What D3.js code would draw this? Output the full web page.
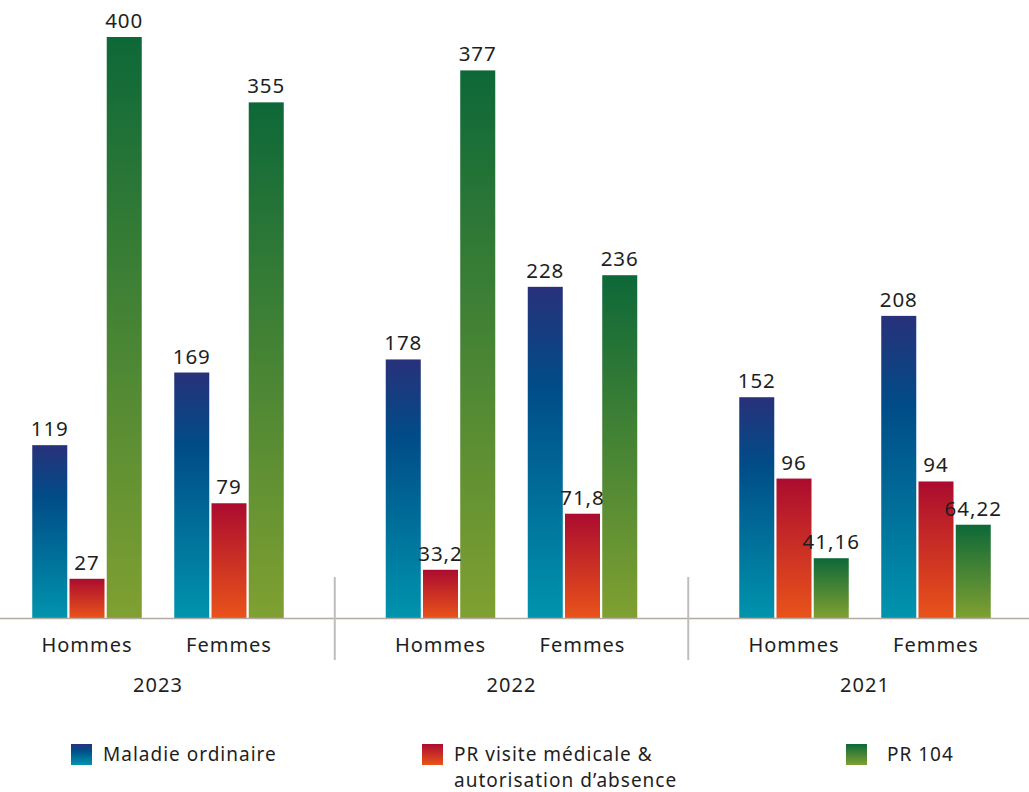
<!DOCTYPE html>
<html><head><meta charset="utf-8">
<script src="https://cdn.jsdelivr.net/npm/d3@7"></script>
<style>
html,body{margin:0;padding:0;background:#fff;}
text{font-family:"Noto Sans",sans-serif;fill:#1e1e1e;}
</style></head>
<body>
<svg id="chart" width="1029" height="792"></svg>
<script>
const years = ["2023", "2022", "2021"];
const sexes = ["Hommes", "Femmes"];
const seriesNames = ["Maladie ordinaire", "PR visite médicale &\nautorisation d’absence", "PR 104"];
// values in order: 2023 H, 2023 F, 2022 H, 2022 F, 2021 H, 2021 F
const maladie = [119, 169, 178, 228, 152, 208];
const prVisite = [27, 79, 33.2, 71.8, 96, 94];
const pr104 = [400, 355, 377, 236, 41.16, 64.22];
const yTicks = [0, 400];

const seriesValues = [maladie, prVisite, pr104];
const gradients = [
  [["0%", "#28317a"], ["30%", "#004c88"], ["100%", "#0094ad"]],
  [["0%", "#ab0c2f"], ["100%", "#e9531a"]],
  [["0%", "#0d6838"], ["100%", "#80a031"]]
];

const svg = d3.select("#chart");
const defs = svg.append("defs");
gradients.forEach((stops, i) => {
  const g = defs.append("linearGradient").attr("id", "grad" + i)
    .attr("x1", 0).attr("y1", 0).attr("x2", 0).attr("y2", 1);
  stops.forEach(s => g.append("stop").attr("offset", s[0]).attr("stop-color", s[1]));
});

const fr = d3.formatLocale({decimal: ",", thousands: " ", grouping: [3], currency: ["", " €"]});
const fmt = fr.format("~g");

const baseY = 618;
const y = d3.scaleLinear().domain(d3.extent(yTicks)).range([baseY, 37]);
const xYear = d3.scaleBand().domain(years).range([-18.75, 1041.75]).padding(0);
const sexOffset = d3.scaleBand().domain(sexes).range([-142, 142]).padding(0);
const xSeries = d3.scaleBand().domain(d3.range(seriesValues.length)).range([-54.75, 54.75]).paddingInner(0.06).paddingOuter(0);

const rows = [];
years.forEach((yr, yi) => sexes.forEach((sx, si) => {
  const idx = yi * sexes.length + si;
  const c = xYear(yr) + xYear.bandwidth() / 2 + sexOffset(sx) + sexOffset.bandwidth() / 2;
  seriesValues.forEach((arr, k) => rows.push({yr, sx, k, v: arr[idx], c}));
}));

// bars
svg.append("g").selectAll("rect").data(rows).join("rect")
  .attr("x", d => d.c + xSeries(d.k))
  .attr("width", xSeries.bandwidth())
  .attr("y", d => y(d.v))
  .attr("height", d => baseY - y(d.v))
  .attr("fill", d => `url(#grad${d.k})`);

// value labels
svg.append("g").selectAll("text").data(rows).join("text")
  .attr("x", d => d.c + xSeries(d.k) + xSeries.bandwidth() / 2)
  .attr("y", d => y(d.v) - 9)
  .attr("text-anchor", "middle")
  .attr("font-size", 20.5)
  .attr("letter-spacing", 1)
  .text(d => fmt(d.v));

// axis baseline
svg.append("line").attr("x1", 0).attr("x2", 1029).attr("y1", baseY + 0.5).attr("y2", baseY + 0.5)
  .attr("stroke", "#b4aca3").attr("stroke-width", 1.6);

// separators
svg.append("g").selectAll("line").data(years.slice(1)).join("line")
  .attr("x1", d => xYear(d)).attr("x2", d => xYear(d))
  .attr("y1", 577).attr("y2", 660)
  .attr("stroke", "#bdbdbd").attr("stroke-width", 2);

// sex labels
const sexRows = [];
years.forEach(yr => sexes.forEach(sx => sexRows.push({yr, sx,
  c: xYear(yr) + xYear.bandwidth() / 2 + sexOffset(sx) + sexOffset.bandwidth() / 2})));
svg.append("g").selectAll("text").data(sexRows).join("text")
  .attr("x", d => d.c).attr("y", 652)
  .attr("text-anchor", "middle").attr("font-size", 20).attr("letter-spacing", 1)
  .text(d => d.sx);

// year labels
svg.append("g").selectAll("text").data(years).join("text")
  .attr("x", d => xYear(d) + xYear.bandwidth() / 2).attr("y", 692)
  .attr("text-anchor", "middle").attr("font-size", 20).attr("letter-spacing", 1)
  .text(d => d);

// legend
const legendX = [71, 422, 846];
const lg = svg.append("g").selectAll("g").data(seriesNames).join("g")
  .attr("transform", (d, i) => `translate(${legendX[i]},744)`);
lg.append("rect").attr("width", 21).attr("height", 21).attr("fill", (d, i) => `url(#grad${i})`);
lg.each(function(d, i) {
  d3.select(this).selectAll("text.l").data(d.split("\n")).join("text")
    .attr("class", "l")
    .attr("x", i === 2 ? 41 : 32)
    .attr("y", (t, j) => 17 + j * 26)
    .attr("font-size", 19).attr("letter-spacing", 1)
    .text(t => t);
});
</script>
</body></html>
